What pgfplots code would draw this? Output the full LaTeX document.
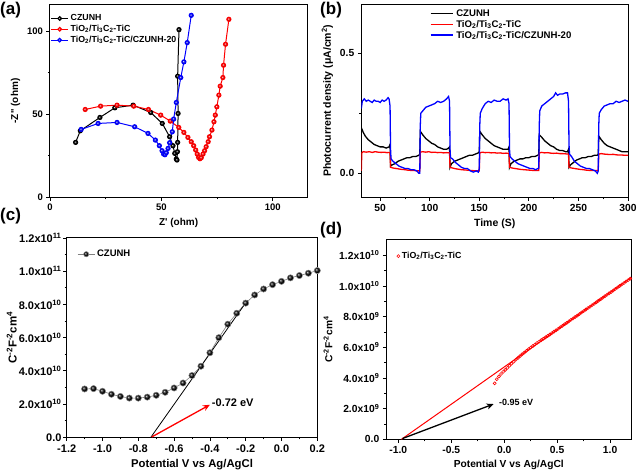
\documentclass[border=0pt]{standalone}
\usepackage{fontspec}
\setmainfont{Liberation Sans}
\usepackage{pgfplots}
\pgfplotsset{compat=1.18}
\usetikzlibrary{arrows.meta}
\newcommand{\fs}[1]{\bfseries\fontsize{#1}{#1}\selectfont}
\pgfplotsset{
 panel/.style={scale only axis, anchor=north west,
  axis line style={line width=1pt}, tick style={line width=0.8pt, black},
  tick align=outside, xtick pos=bottom, ytick pos=left,
  major tick length=3.5pt, minor tick length=2pt,
  /pgf/number format/assume math mode=true,
  legend cell align=left,
  legend style={draw=none, fill=none}}
}
\begin{document}
\begin{tikzpicture}
\path[use as bounding box] (0,0) rectangle (638pt,476pt);
% ---------------- (a)
\begin{axis}[panel, at={(50pt,471.3pt)}, width=257.3pt, height=192.6pt,
  tick label style={font=\fs{9.5}}, label style={font=\fs{10}},
  xmin=0, xmax=115.5, ymin=0, ymax=115.8,
  xtick={0,50,100}, ytick={0,50,100}, minor x tick num=1, minor y tick num=1,
  xlabel={Z\textquotesingle\ (ohm)}, ylabel={-Z\textquotesingle\textquotesingle\ (ohm)},
  legend style={at={(-0.01,0.97)}, anchor=north west, row sep=-1pt, font=\fs{8.8}},
  legend image post style={mark size=1.9pt}]
\addplot[black, line width=1pt, mark=ball, mark size=2.1pt, mark options={ball color=black}] coordinates {
(11.5,33)(13.6,40)(22.4,48)(29.1,53.8)(37.3,55.4)(45.2,51)(50.4,44.4)(53.7,36.4)(55.2,31)(56,26.4)(56.7,23)(57,22.4)(57.2,27.4)(57.3,33)(57.5,50.4)(57.3,72.8)(57.9,100.8)};
\addlegendentry{CZUNH}
\addplot[red, line width=1pt, mark=ball, mark size=2.1pt, mark options={ball color=red}] coordinates {
(15.8,52.8)(22.7,54.8)(30.1,55.4)(37.6,54.8)(44.2,52.8)(49.7,49.4)(54,45.8)(57.8,42)(60.1,39)(61.9,36)(63.4,33.4)(64.5,31)(65.4,28.4)(66.1,26)(66.7,24)(67.3,23.2)(67.9,23.8)(68.7,26)(69.4,28)(70.1,30.4)(71,33.4)(71.6,36.4)(72.7,40.4)(73.6,45.4)(74.2,49.4)(74.9,54.4)(75.8,61.4)(76.4,66.8)(77.6,72)(77.9,79.4)(78.8,92)(80.3,107)};
\addlegendentry{TiO\textsubscript{2}/Ti\textsubscript{3}C\textsubscript{2}-TiC}
\addplot[blue, line width=1pt, mark=ball, mark size=2.1pt, mark options={ball color=blue}] coordinates {
(14,40.8)(21.6,44.4)(30.1,45)(38,42.4)(44,38.4)(47.3,34.4)(49.1,31)(50.3,28)(51,26)(51.6,25.6)(52.2,26.8)(53,29.4)(53.7,32.8)(54.9,39.4)(55.5,47)(56.7,57)(58.7,72)(60.1,81.4)(61.6,93)(63.4,109.4)};
\addlegendentry{TiO\textsubscript{2}/Ti\textsubscript{3}C\textsubscript{2}-TiC/CZUNH-20}
\end{axis}
% ---------------- (b)
\begin{axis}[panel, at={(361.3pt,471.7pt)}, width=266.7pt, height=193pt,
  tick label style={font=\fs{10.3}}, label style={font=\fs{10.5}},
  xmin=31, xmax=300, ymin=-0.1, ymax=0.704,
  xtick={50,100,...,300}, ytick={0,0.5}, minor x tick num=1, minor y tick num=1,
  yticklabel style={/pgf/number format/.cd, fixed, fixed zerofill, precision=1},
  xlabel={Time (S)}, ylabel={Photocurrent density (μA/cm\textsuperscript{2})},
  legend image code/.code={\draw[#1] (0cm,0cm) -- (0.8cm,0cm);},
  legend style={at={(0.245,0.995)}, anchor=north west, row sep=-1.5pt, font=\fs{9.6}}]
\addlegendimage{draw=black, line width=1.7pt}
\addlegendentry{CZUNH}
\addlegendimage{draw=red, line width=1.7pt}
\addlegendentry{TiO\textsubscript{2}/Ti\textsubscript{3}C\textsubscript{2}-TiC}
\addlegendimage{draw=blue, line width=1.7pt}
\addlegendentry{TiO\textsubscript{2}/Ti\textsubscript{3}C\textsubscript{2}-TiC/CZUNH-20}
\addplot[color=black, line width=1.3pt, forget plot] coordinates {
(31,0.19)(33,0.17)(35,0.155)(38,0.14)(41,0.13)(44,0.12)(47,0.115)(50,0.11)(53,0.11)(56,0.105)(59,0.11)(60,0.12)(60.5,0.03)(62,0.035)(65,0.04)(68,0.05)(71,0.055)(74,0.06)(77,0.065)(80,0.065)(83,0.07)(86,0.07)(89,0.075)(90,0.08)(90.5,0.175)(93,0.16)(96,0.145)(99,0.135)(102,0.125)(105,0.12)(108,0.11)(111,0.105)(114,0.10)(117,0.10)(119,0.105)(120,0.11)(120.5,0.025)(122,0.04)(125,0.05)(128,0.055)(131,0.06)(134,0.065)(137,0.07)(140,0.075)(143,0.075)(146,0.08)(149,0.085)(150,0.09)(150.5,0.175)(153,0.16)(156,0.145)(159,0.135)(162,0.125)(165,0.115)(168,0.11)(171,0.105)(174,0.10)(177,0.10)(179,0.10)(180,0.11)(180.5,0.025)(182,0.04)(185,0.05)(188,0.055)(191,0.06)(194,0.06)(197,0.065)(200,0.065)(203,0.07)(206,0.07)(209,0.075)(210,0.08)(210.5,0.16)(213,0.15)(216,0.135)(219,0.125)(222,0.115)(225,0.11)(228,0.10)(231,0.095)(234,0.095)(237,0.09)(239,0.09)(240,0.10)(240.5,0.025)(242,0.035)(245,0.045)(248,0.055)(251,0.06)(254,0.065)(257,0.065)(260,0.07)(263,0.07)(266,0.075)(269,0.075)(270,0.08)(270.5,0.155)(273,0.14)(276,0.125)(279,0.115)(282,0.11)(285,0.105)(288,0.10)(291,0.095)(294,0.09)(297,0.09)(300,0.09)};
\addplot[color=red, line width=1.3pt, forget plot] coordinates {
(31,0.01)(31.5,0.085)(33,0.09)(36,0.088)(39,0.09)(42,0.087)(45,0.09)(48,0.088)(51,0.087)(54,0.088)(57,0.086)(60,0.087)(60.5,0.025)(63,0.022)(66,0.02)(69,0.018)(72,0.016)(75,0.015)(78,0.013)(81,0.012)(84,0.012)(87,0.01)(90,0.01)(90.5,0.088)(93,0.09)(96,0.088)(99,0.09)(102,0.087)(105,0.088)(108,0.086)(111,0.087)(114,0.085)(117,0.086)(120,0.085)(120.5,0.025)(123,0.022)(126,0.019)(129,0.017)(132,0.015)(135,0.014)(138,0.013)(141,0.012)(144,0.011)(147,0.01)(150,0.01)(150.5,0.085)(153,0.088)(156,0.086)(159,0.087)(162,0.085)(165,0.086)(168,0.084)(171,0.085)(174,0.083)(177,0.084)(180,0.083)(180.5,0.025)(183,0.022)(186,0.02)(189,0.018)(192,0.016)(195,0.015)(198,0.014)(201,0.013)(204,0.012)(207,0.012)(210,0.012)(210.5,0.085)(213,0.087)(216,0.085)(219,0.086)(222,0.084)(225,0.083)(228,0.084)(231,0.082)(234,0.082)(237,0.081)(240,0.08)(240.5,0.025)(243,0.022)(246,0.02)(249,0.018)(252,0.016)(255,0.015)(258,0.013)(261,0.012)(264,0.012)(267,0.011)(270,0.012)(270.5,0.08)(273,0.082)(276,0.08)(279,0.079)(282,0.078)(285,0.079)(288,0.077)(291,0.076)(294,0.076)(297,0.075)(300,0.075)};
\addplot[color=blue, line width=1.3pt, forget plot] coordinates {
(31,0.27)(32,0.30)(34,0.31)(36,0.30)(38,0.305)(40,0.30)(42,0.295)(44,0.305)(46,0.30)(48,0.30)(50,0.295)(52,0.305)(54,0.30)(56,0.305)(58,0.315)(59,0.31)(60,0.28)(60.5,0.10)(61,0.06)(63,0.05)(66,0.04)(69,0.03)(72,0.025)(75,0.02)(78,0.02)(81,0.015)(84,0.015)(87,0.01)(89,0.0)(90,0.0)(90.5,0.20)(91,0.25)(93,0.26)(96,0.275)(99,0.28)(102,0.285)(105,0.29)(108,0.30)(111,0.295)(114,0.30)(117,0.31)(119,0.32)(120,0.30)(120.5,0.10)(121,0.065)(123,0.06)(126,0.045)(129,0.035)(132,0.025)(135,0.02)(138,0.02)(141,0.01)(144,0.005)(147,0.01)(149,0.005)(150,0.02)(150.5,0.20)(151,0.25)(153,0.27)(156,0.29)(159,0.30)(162,0.295)(165,0.305)(168,0.30)(171,0.30)(174,0.31)(177,0.305)(179,0.31)(180,0.29)(180.5,0.10)(181,0.07)(183,0.06)(186,0.05)(189,0.04)(192,0.035)(195,0.03)(198,0.025)(201,0.02)(204,0.02)(207,0.015)(209,0.02)(210,0.02)(210.5,0.20)(211,0.26)(213,0.28)(216,0.29)(219,0.30)(222,0.31)(225,0.32)(227,0.335)(229,0.325)(231,0.33)(234,0.33)(237,0.335)(239,0.335)(240,0.30)(240.5,0.12)(241,0.08)(243,0.07)(246,0.05)(249,0.04)(252,0.03)(255,0.025)(258,0.02)(261,0.02)(264,0.015)(267,0.01)(269,0.0)(270,0.01)(270.5,0.20)(271,0.25)(273,0.265)(276,0.28)(279,0.285)(282,0.29)(285,0.29)(288,0.30)(291,0.295)(294,0.30)(297,0.305)(300,0.30)};
\end{axis}
% ---------------- (c)
\begin{axis}[panel, at={(66.7pt,238pt)}, width=250.6pt, height=199.3pt,
  tick label style={font=\fs{11}}, xlabel style={font=\fs{11.3}}, ylabel style={font=\fs{11.5}, yshift=-3pt},
  xmin=-1.2, xmax=0.2, ymin=0, ymax=1.2e11, scaled ticks=false,
  xtick={-1.2,-1.0,...,0.21}, minor x tick num=1,
  xticklabels={-1.2,-1.0,-0.8,-0.6,-0.4,-0.2,0.0,0.2},
  ytick={0,2e10,4e10,6e10,8e10,1e11,1.2e11}, minor y tick num=1,
  yticklabels={0.0,2.0x10\textsuperscript{10},4.0x10\textsuperscript{10},6.0x10\textsuperscript{10},8.0x10\textsuperscript{10},1.0x10\textsuperscript{11},1.2x10\textsuperscript{11}},
  yticklabel style={inner sep=1.5pt},
  xlabel={Potential V vs Ag/AgCl}, ylabel={C\textsuperscript{-2}F\textsuperscript{-2}cm\textsuperscript{4}},
  legend style={at={(0.03,0.96)}, anchor=north west, font=\fs{9.5}},
  legend image post style={mark size=2.6pt},
  clip=false]
\addplot[gray, line width=0.6pt, mark=ball, mark size=3.1pt, mark options={ball color=black}] coordinates {
(-1.10,2.91e10)(-1.05,2.93e10)(-1.00,2.77e10)(-0.95,2.59e10)(-0.90,2.46e10)(-0.85,2.36e10)(-0.80,2.36e10)(-0.75,2.42e10)(-0.70,2.53e10)(-0.65,2.71e10)(-0.60,2.97e10)(-0.55,3.27e10)(-0.50,3.72e10)(-0.45,4.28e10)(-0.40,5.09e10)(-0.35,6.00e10)(-0.30,6.81e10)(-0.25,7.47e10)(-0.20,8.08e10)(-0.15,8.57e10)(-0.10,8.93e10)(-0.05,9.19e10)(0.00,9.39e10)(0.05,9.60e10)(0.10,9.74e10)(0.15,9.88e10)(0.20,10.04e10)};
\addlegendentry{CZUNH}
\addplot[black, line width=0.8pt, forget plot] coordinates {(-0.73,0)(-0.19,8.25e10)};
\addplot[red, line width=1.3pt, -{Stealth[length=7pt,width=6pt]}, forget plot] coordinates {(-0.725,0.02e10)(-0.40,1.96e10)};
\node[anchor=west, font=\fs{11}, inner sep=1pt] at (axis cs:-0.395,2.08e10) {-0.72 eV};
\end{axis}
% ---------------- (d)
\begin{axis}[panel, at={(386.3pt,236pt)}, width=245pt, height=199.3pt,
  tick label style={font=\fs{10.3}}, label style={font=\fs{10.2}},
  xmin=-1.113, xmax=1.2, ymin=0, ymax=1.3e10, scaled ticks=false,
  xtick={-1,-0.5,0,0.5,1}, minor x tick num=1,
  xticklabels={-1.0,-0.5,0.0,0.5,1.0},
  ytick={0,2e9,4e9,6e9,8e9,1e10,1.2e10}, minor y tick num=1,
  yticklabels={0.0,2.0x10\textsuperscript{9},4.0x10\textsuperscript{9},6.0x10\textsuperscript{9},8.0x10\textsuperscript{9},1.0x10\textsuperscript{10},1.2x10\textsuperscript{10}},
  xlabel={Potential V vs Ag/AgCl}, ylabel={C\textsuperscript{-2}F\textsuperscript{-2}cm\textsuperscript{4}},
  legend style={at={(0.03,0.96)}, anchor=north west, font=\fs{8.8}}]
\addplot[red, only marks, mark=o, mark size=1.5pt, mark options={line width=0.6pt, fill=red!25}] coordinates {
(-0.09,3.65e9)(-0.07,3.92e9)(-0.05,4.10e9)(-0.03,4.26e9)(-0.01,4.40e9)(0.01,4.53e9)(0.03,4.66e9)(0.05,4.80e9)(0.07,4.93e9)(0.09,5.06e9)(0.11,5.19e9)(0.13,5.31e9)(0.15,5.43e9)(0.17,5.55e9)(0.19,5.66e9)(0.21,5.77e9)(0.23,5.88e9)(0.25,5.98e9)(0.27,6.08e9)(0.29,6.18e9)(0.31,6.28e9)(0.33,6.37e9)(0.35,6.47e9)(0.37,6.56e9)(0.39,6.65e9)(0.41,6.74e9)(0.43,6.83e9)(0.45,6.92e9)(0.47,7.02e9)(0.49,7.11e9)(0.51,7.21e9)(0.53,7.31e9)(0.55,7.40e9)(0.57,7.50e9)(0.59,7.59e9)(0.61,7.69e9)(0.63,7.79e9)(0.65,7.88e9)(0.67,7.98e9)(0.69,8.07e9)(0.71,8.17e9)(0.73,8.27e9)(0.75,8.36e9)(0.77,8.46e9)(0.79,8.56e9)(0.81,8.65e9)(0.83,8.75e9)(0.85,8.84e9)(0.87,8.94e9)(0.89,9.04e9)(0.91,9.13e9)(0.93,9.23e9)(0.95,9.33e9)(0.97,9.42e9)(0.99,9.52e9)(1.01,9.61e9)(1.03,9.71e9)(1.05,9.81e9)(1.07,9.90e9)(1.09,10.00e9)(1.11,10.10e9)(1.13,10.19e9)(1.15,10.29e9)(1.17,10.38e9)(1.19,10.48e9)};
\addlegendentry{TiO\textsubscript{2}/Ti\textsubscript{3}C\textsubscript{2}-TiC}
\addplot[red, line width=1pt, forget plot] coordinates {(-0.97,0)(1.2,10.55e9)};
\addplot[black, line width=1.3pt, -{Stealth[length=7pt,width=6pt]}, forget plot] coordinates {(-0.96,0.05e9)(-0.10,2.30e9)};
\node[anchor=west, font=\fs{9}, inner sep=1pt] at (axis cs:-0.06,2.38e9) {-0.95 eV};
\end{axis}
% panel letters
\node[anchor=north west, inner sep=0pt, font=\fs{17}] at (0pt,474pt) {(a)};
\node[anchor=north west, inner sep=0pt, font=\fs{17}] at (320pt,474pt) {(b)};
\node[anchor=north west, inner sep=0pt, font=\fs{17}] at (0pt,268pt) {(c)};
\node[anchor=north west, inner sep=0pt, font=\fs{17}] at (320pt,254pt) {(d)};
\end{tikzpicture}
\end{document}
